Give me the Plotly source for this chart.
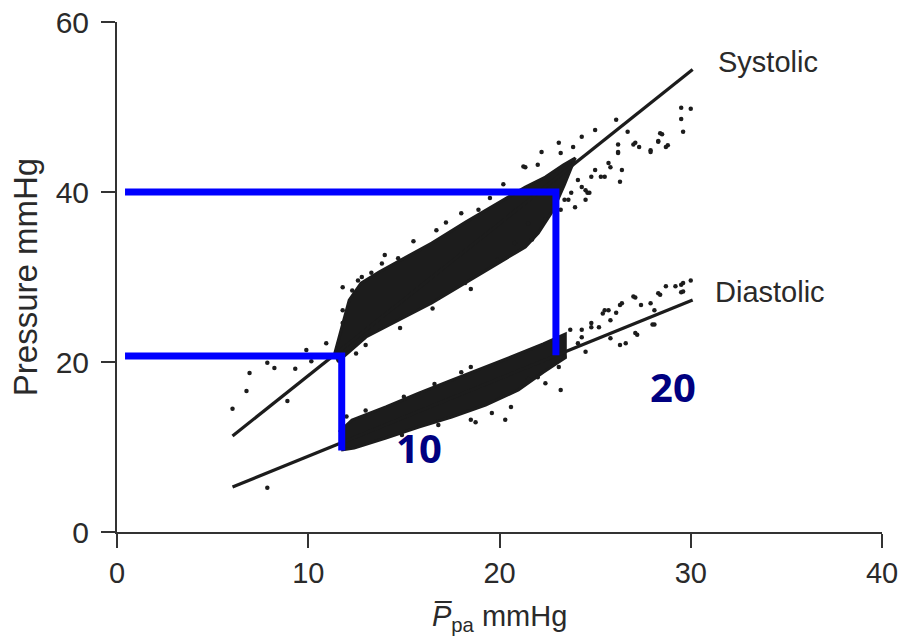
import plotly.graph_objects as go

# ---- data ----
x_ticks = [0, 10, 20, 30, 40]
y_ticks = [0, 20, 40, 60]

# dense point clouds (outline of the solid black region)
sys_cloud_x = [11.35, 11.77, 12.14, 12.76, 13.70, 14.74, 16.46, 18.23, 19.95, 21.35, 22.40, 23.33, 23.96,
               23.39, 22.81, 22.03, 21.35, 19.95, 18.23, 16.46, 14.74, 13.02, 12.14, 11.51]
sys_cloud_y = [20.71, 24.35, 27.29, 29.29, 30.59, 31.88, 34.0, 36.47, 38.71, 40.59, 41.76, 43.18, 44.0,
               40.82, 37.88, 35.18, 33.53, 31.65, 29.29, 26.94, 24.94, 22.94, 21.18, 20.0]
dia_cloud_x = [11.61, 12.29, 14.06, 15.78, 17.5, 19.27, 20.99, 22.29, 23.44,
               23.44, 22.29, 20.99, 19.27, 17.5, 15.78, 14.06, 12.40, 11.72]
dia_cloud_y = [11.76, 13.18, 14.71, 16.35, 17.88, 19.41, 20.94, 22.12, 23.29,
               20.5, 18.8, 16.7, 14.94, 13.53, 12.35, 11.06, 9.88, 9.65]

# scattered individual points
sys_pts_x = [6.04, 6.77, 6.93, 7.86, 8.23, 8.91, 9.32, 10.16, 10.94, 9.9, 11.8, 11.8, 11.8, 12.8, 13.3,
             13.85, 14.7, 16.7, 18.0, 18.9, 21.35, 22.0, 21.25, 22.2, 23.1, 23.2, 23.85, 24.3, 25.0,
             26.1, 26.7, 23.4, 23.75, 24.5, 24.8, 25.5, 25.8, 26.2, 26.4, 27.1, 27.9, 28.4, 28.3, 28.8,
             24.1, 24.5, 24.6, 23.2, 23.95, 23.6, 24.7, 24.3, 25.3, 25.0, 25.7, 26.3, 26.2, 26.2, 27.0,
             27.3, 27.9, 28.7, 28.3, 28.5, 29.6, 29.5, 29.5, 30.0, 18.2, 19.9, 20.8, 21.7, 21.5, 22.4, 22.8,
             14.0, 15.5, 17.2, 19.5, 20.2, 13.0, 14.8, 16.5, 18.5, 12.5, 12.3, 12.6]
sys_pts_y = [14.5, 16.6, 18.7, 19.9, 19.3, 15.4, 19.2, 20.1, 22.2, 21.4, 24.6, 26.1, 28.8, 30.0, 30.5,
             31.6, 32.2, 35.5, 37.5, 37.9, 42.9, 43.2, 43.0, 44.7, 45.8, 44.6, 45.3, 46.5, 47.3,
             48.5, 47.1, 39.1, 39.9, 40.2, 41.8, 41.8, 42.9, 44.6, 42.6, 45.8, 44.9, 46.9, 45.9, 45.5,
             41.4, 39.1, 39.9, 37.9, 38.2, 39.1, 39.9, 40.6, 41.8, 42.6, 43.4, 41.2, 45.6, 44.7, 45.6,
             45.3, 44.7, 45.3, 46.0, 46.8, 47.1, 48.6, 49.9, 49.8, 29.3, 32.0, 34.0, 34.4, 36.3, 36.8, 38.5,
             32.6, 34.2, 36.4, 39.3, 40.9, 22.0, 24.0, 26.3, 28.6, 21.0, 28.4, 29.6]
dia_pts_x = [7.86, 18.75, 19.6, 18.5, 20.6, 20.3, 22.0, 22.4, 23.2, 23.1, 23.4, 24.5, 24.1, 23.7, 24.3,
             24.8, 25.2, 25.8, 25.5, 26.1, 26.4, 26.6, 27.2, 28.1, 27.1, 27.4, 28.1, 28.4, 29.5, 29.5,
             30.0, 29.6, 29.2, 28.7, 29.6, 28.3, 27.9, 27.0, 26.3, 25.7, 25.4, 28.0, 27.1, 26.3, 25.8,
             24.8, 24.3, 18.5, 12.0, 13.0, 15.0, 16.6, 18.0, 14.9, 16.8, 21.5]
dia_pts_y = [5.2, 12.9, 14.0, 13.2, 14.7, 13.2, 18.2, 17.5, 16.7, 19.4, 20.6, 21.2, 22.2, 23.8, 23.8,
             24.6, 24.1, 24.9, 26.1, 25.8, 26.9, 22.2, 23.2, 24.4, 27.6, 26.7, 26.1, 27.9, 28.2, 29.1,
             29.6, 29.3, 28.9, 28.9, 28.3, 28.1, 26.9, 27.7, 26.7, 26.1, 25.7, 24.4, 23.4, 22.0, 22.8,
             24.1, 22.9, 19.4, 13.6, 14.3, 15.9, 17.4, 18.8, 11.4, 12.6, 18.0]

# regression lines
sys_fit_x = [6.04, 30.1]
sys_fit_y = [11.3, 54.4]
dia_fit_x = [6.04, 30.1]
dia_fit_y = [5.3, 27.3]

# blue guide lines
guide_hi_x = [0.42, 22.95, 22.95]
guide_hi_y = [40.0, 40.0, 20.8]
guide_lo_x = [0.42, 11.75, 11.75]
guide_lo_y = [20.7, 20.7, 9.6]

series_labels = ["Systolic", "Diastolic"]
series_label_x = [31.3, 31.15]
series_label_y = [55.3, 28.2]

note_labels = ["10", "20"]
note_x = [15.8, 29.06]
note_y = [9.9, 17.1]

# ---- figure ----
INK = "#1c1c1c"
AX = "#333333"
FONT = "Liberation Sans, Arial, sans-serif"

fig = go.Figure()
fig.add_trace(go.Scatter(x=sys_cloud_x, y=sys_cloud_y, mode="lines", fill="toself",
                         fillcolor=INK, line=dict(color=INK, width=3), hoverinfo="skip"))
fig.add_trace(go.Scatter(x=dia_cloud_x, y=dia_cloud_y, mode="lines", fill="toself",
                         fillcolor=INK, line=dict(color=INK, width=3), hoverinfo="skip"))
fig.add_trace(go.Scatter(x=sys_pts_x, y=sys_pts_y, mode="markers",
                         marker=dict(color=INK, size=4.5, line=dict(width=0))))
fig.add_trace(go.Scatter(x=dia_pts_x, y=dia_pts_y, mode="markers",
                         marker=dict(color=INK, size=4.5, line=dict(width=0))))
fig.add_trace(go.Scatter(x=sys_fit_x, y=sys_fit_y, mode="lines", line=dict(color=INK, width=3.2)))
fig.add_trace(go.Scatter(x=dia_fit_x, y=dia_fit_y, mode="lines", line=dict(color=INK, width=3.2)))
fig.add_trace(go.Scatter(x=guide_hi_x, y=guide_hi_y, mode="lines", line=dict(color="#0000ff", width=7)))
fig.add_trace(go.Scatter(x=guide_lo_x, y=guide_lo_y, mode="lines", line=dict(color="#0000ff", width=7)))

for t, x, y in zip(series_labels, series_label_x, series_label_y):
    fig.add_annotation(x=x, y=y, text=t, showarrow=False, xanchor="left", yanchor="middle",
                       font=dict(family=FONT, size=29, color="#2a2a2a"))
for t, x, y in zip(note_labels, note_x, note_y):
    fig.add_annotation(x=x, y=y, text="<b>" + t + "</b>", showarrow=False, xanchor="center",
                       yanchor="middle", font=dict(family="Noto Sans", size=40, color="#000080"))

fig.add_annotation(xref="paper", yref="paper", x=-0.12, y=0.5, text="Pressure mmHg",
                   textangle=-90, showarrow=False, xanchor="center", yanchor="middle",
                   font=dict(family=FONT, size=33, color="#2a2a2a"))
fig.add_annotation(xref="paper", yref="paper", x=0.5, y=-0.169,
                   text="<i>P\u0305</i><sub>pa</sub> mmHg", showarrow=False,
                   xanchor="center", yanchor="middle",
                   font=dict(family=FONT, size=29, color="#2a2a2a"))

axis_common = dict(showline=True, linecolor=AX, linewidth=2, ticks="outside", ticklen=14,
                   tickwidth=2, tickcolor=AX, showgrid=False, zeroline=False, automargin=False,
                   ticklabeloverflow="allow")
fig.update_xaxes(range=[0, 40], tickvals=x_ticks, ticktext=[str(v) for v in x_ticks],
                 tickfont=dict(family=FONT, size=29, color="#2a2a2a"), **axis_common)
fig.update_yaxes(range=[0, 60], tickvals=y_ticks, ticktext=[str(v) for v in y_ticks],
                 ticklabelstandoff=6, tickfont=dict(family=FONT, size=30, color="#2a2a2a"),
                 **axis_common)

fig.update_layout(width=900, height=636, margin=dict(l=117, r=18, t=22, b=104),
                  paper_bgcolor="white", plot_bgcolor="white", showlegend=False)

fig.write_html("out.html")
